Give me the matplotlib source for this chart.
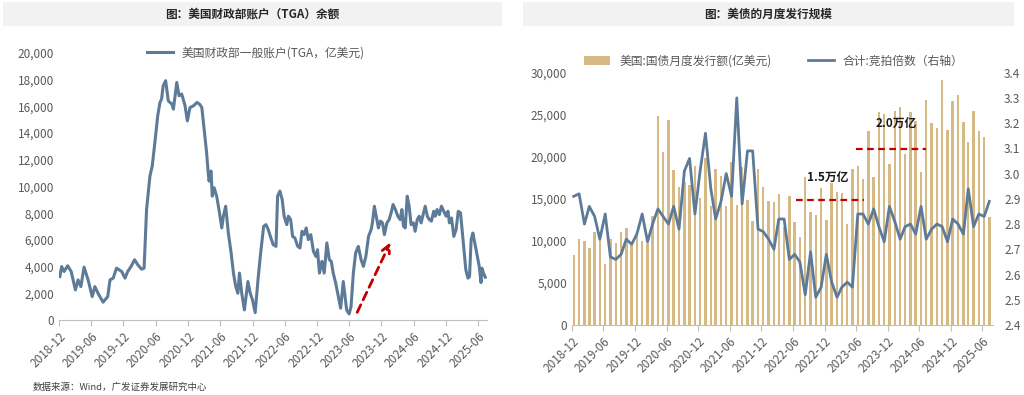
"""
Two panels: US Treasury General Account balance and monthly Treasury issuance
with the auction bid-to-cover ratio on a secondary axis.
"""
import matplotlib
matplotlib.use('Agg')
import matplotlib.pyplot as plt
import matplotlib.dates as mdates
from matplotlib.patches import Rectangle
import pandas as pd

plt.rcParams['font.family'] = ['Noto Sans CJK SC', 'DejaVu Sans']
plt.rcParams['axes.unicode_minus'] = False

# left panel: TGA balance (100m USD)
tga_dates = [
    '2018-12-06', '2018-12-16', '2018-12-30', '2019-01-19', '2019-02-08', '2019-03-04',
    '2019-03-19', '2019-04-04', '2019-04-22', '2019-05-15', '2019-06-07', '2019-06-22',
    '2019-07-10', '2019-08-08', '2019-09-03', '2019-09-16', '2019-10-04', '2019-10-23',
    '2019-11-21', '2019-12-10', '2019-12-25', '2020-01-13', '2020-02-02', '2020-02-20',
    '2020-03-13', '2020-03-27', '2020-04-10', '2020-04-29', '2020-05-12', '2020-05-27',
    '2020-06-12', '2020-06-25', '2020-07-04', '2020-07-13', '2020-07-27', '2020-08-11',
    '2020-08-31', '2020-09-09', '2020-09-28', '2020-10-11', '2020-10-26', '2020-11-14',
    '2020-11-27', '2020-12-12', '2021-01-01', '2021-01-20', '2021-02-04', '2021-02-17',
    '2021-03-02', '2021-03-16', '2021-03-25', '2021-03-30', '2021-04-10', '2021-04-17',
    '2021-04-28', '2021-05-12', '2021-05-25', '2021-06-10', '2021-06-19', '2021-07-02',
    '2021-07-17', '2021-08-02', '2021-08-15', '2021-08-28', '2021-09-09', '2021-09-18',
    '2021-10-01', '2021-10-16', '2021-11-05', '2021-11-18', '2021-12-01', '2021-12-16',
    '2022-01-01', '2022-01-14', '2022-02-02', '2022-02-15', '2022-02-28', '2022-03-15',
    '2022-03-28', '2022-04-13', '2022-04-22', '2022-05-05', '2022-05-18', '2022-05-29',
    '2022-06-13', '2022-06-22', '2022-07-05', '2022-07-16', '2022-07-29', '2022-08-14',
    '2022-08-27', '2022-09-07', '2022-09-19', '2022-10-01', '2022-10-13', '2022-10-27',
    '2022-11-11', '2022-11-25', '2022-12-04', '2022-12-15', '2022-12-29', '2023-01-11',
    '2023-01-26', '2023-02-09', '2023-02-20', '2023-03-03', '2023-03-17', '2023-04-01',
    '2023-04-14', '2023-04-29', '2023-05-18', '2023-06-01', '2023-06-12', '2023-06-25',
    '2023-07-08', '2023-07-23', '2023-08-08', '2023-08-21', '2023-09-04', '2023-09-19',
    '2023-10-04', '2023-10-11', '2023-10-22', '2023-11-05', '2023-11-14', '2023-11-25',
    '2023-12-07', '2023-12-18', '2024-01-01', '2024-01-14', '2024-01-25', '2024-02-05',
    '2024-02-18', '2024-03-03', '2024-03-16', '2024-03-26', '2024-04-04', '2024-04-14',
    '2024-04-25', '2024-05-06', '2024-05-17', '2024-05-30', '2024-06-09', '2024-06-21',
    '2024-07-02', '2024-07-13', '2024-07-24', '2024-08-05', '2024-08-17', '2024-08-28',
    '2024-09-09', '2024-09-22', '2024-10-01', '2024-10-11', '2024-10-24', '2024-11-05',
    '2024-11-18', '2024-12-01', '2024-12-12', '2024-12-20', '2025-01-01', '2025-01-14',
    '2025-01-27', '2025-02-08', '2025-02-21', '2025-02-28', '2025-03-12', '2025-03-23',
    '2025-04-04', '2025-04-13', '2025-04-22', '2025-05-02', '2025-05-11', '2025-05-24',
    '2025-06-07', '2025-06-17', '2025-06-22', '2025-07-01', '2025-07-11',
]
tga_values = [
    3250, 4000, 3630, 4060, 3630, 2250,
    3000, 2500, 3960, 3000, 1750, 2500,
    2000, 1330, 1750, 3000, 3130, 3880,
    3630, 3130, 3630, 4000, 4510, 4140,
    3800, 3880, 8270, 10770, 11530, 13280,
    15290, 16290, 16540, 17540, 17920, 16410,
    16170, 15790, 17790, 16790, 16920, 16040,
    14910, 15910, 16040, 16290, 16170, 15910,
    14290, 12530, 11030, 10400, 11150, 9270,
    9900, 9270, 8270, 6890, 7770, 8520,
    6520, 5010, 3510, 2500, 2000, 3510,
    2000, 750, 2880, 2000, 1500, 550,
    3000, 4760, 7010, 7140, 6770, 6140,
    5640, 5510, 9270, 9650, 9020, 7770,
    7140, 7770, 7520, 6260, 6140, 5510,
    5390, 6640, 6390, 6890, 6020, 6390,
    5140, 4760, 5260, 3510, 4390, 3510,
    5770, 4510, 4390, 3510, 2760, 1750,
    880, 2880, 750, 450, 1000, 3510,
    5010, 5510, 4510, 4010, 4760, 6260,
    6770, 7270, 8520, 7520, 6890, 7400,
    7270, 6390, 7270, 7520, 8020, 8650,
    8270, 7770, 7520, 8270, 7020, 6890,
    9270, 8520, 7140, 7270, 6640, 7520,
    7770, 7270, 7890, 8520, 7770, 7520,
    7400, 8140, 7770, 8270, 7890, 8520,
    8140, 7770, 8140, 7270, 7640, 6260,
    6770, 8140, 8020, 7020, 5260, 3760,
    3130, 3250, 6020, 6510, 5890, 5010,
    4010, 2800, 3880, 3510, 3200,
]

# right panel: monthly issuance (100m USD) and bid-to-cover ratio
issue_months = pd.date_range('2018-12-01', '2025-07-01', freq='MS')
issue_amount = [
    8300, 10200, 10000, 9100, 11000, 10100, 7200, 10200, 9800, 11000,
    11500, 9500, 10900, 10000, 9800, 13000, 24800, 20600, 24400, 18400,
    16400, 17000, 16600, 18900, 15100, 19800, 14100, 18500, 17700, 14100,
    19400, 14300, 18800, 14900, 12400, 18600, 16400, 14700, 14600, 15600,
    11600, 15300, 12300, 10500, 17600, 13400, 13100, 16300, 12500, 16900,
    15800, 15700, 12000, 18600, 18900, 17400, 23100, 17600, 25300, 25100,
    19200, 25500, 25900, 20300, 25300, 24300, 18200, 26800, 24000, 23400,
    29100, 23200, 26600, 27400, 24100, 21700, 25500, 23100, 22300, 12900,
]
bid_ratio = [
    2.91, 2.92, 2.80, 2.87, 2.83, 2.74, 2.84, 2.67, 2.66, 2.68,
    2.74, 2.72, 2.76, 2.84, 2.73, 2.80, 2.86, 2.83, 2.80, 2.87,
    2.78, 3.01, 3.06, 2.84, 3.01, 3.16, 2.94, 2.82, 2.89, 3.00,
    2.91, 3.30, 2.88, 3.09, 3.09, 2.78, 2.77, 2.74, 2.70, 2.82,
    2.82, 2.66, 2.68, 2.65, 2.52, 2.69, 2.51, 2.55, 2.68, 2.57,
    2.51, 2.55, 2.57, 2.55, 2.84, 2.84, 2.80, 2.86, 2.79, 2.73,
    2.87, 2.81, 2.74, 2.79, 2.80, 2.76, 2.87, 2.74, 2.78, 2.80,
    2.79, 2.73, 2.82, 2.80, 2.76, 2.94, 2.79, 2.84, 2.83, 2.89,
]

tick_dates = pd.date_range('2018-12-01', '2025-06-01', freq='6MS')

LINE_C = '#5d7b98'
BAR_C = '#d6b985'
TXT_C = '#595959'
AXIS_C = '#bfbfbf'
RED = '#c00000'


def style_date_axis(ax, xmax):
    ax.set_xlim(pd.Timestamp('2018-12-01'), pd.Timestamp(xmax))
    ax.set_xticks(tick_dates)
    ax.xaxis.set_major_formatter(mdates.DateFormatter('%Y-%m'))
    for lab in ax.get_xticklabels():
        lab.set_rotation(45)
        lab.set_ha('right')
        lab.set_rotation_mode('anchor')
    ax.tick_params(axis='x', colors=AXIS_C, labelcolor=TXT_C, labelsize=8.5,
                   length=4, direction='out', pad=3)
    for side in ['top', 'right', 'left']:
        ax.spines[side].set_visible(False)
    ax.spines['bottom'].set_color(AXIS_C)
    ax.tick_params(axis='y', length=0, labelcolor=TXT_C, labelsize=8.5)


fig = plt.figure(figsize=(10.24, 3.95), dpi=100)

# title bands
for x0, w, title in [(0.003, 0.487, '图：美国财政部账户（TGA）余额'),
                     (0.511, 0.479, '图：美债的月度发行规模')]:
    fig.patches.append(Rectangle((x0, 0.935), w, 0.06, transform=fig.transFigure,
                                 facecolor='#f2f2f2', edgecolor='none'))
    fig.text(x0 + w / 2, 0.965, title, ha='center', va='center',
             fontsize=8.4, fontweight='bold', color='#262626')

# ---- left panel
ax1 = fig.add_axes([0.0576, 0.19, 0.418, 0.676])
ax1.plot(pd.to_datetime(tga_dates), tga_values, color=LINE_C, lw=2.2,
         label='美国财政部一般账户(TGA，亿美元)')
ax1.set_ylim(0, 20000)
ax1.set_yticks(range(0, 20001, 2000))
ax1.yaxis.set_major_formatter(matplotlib.ticker.StrMethodFormatter('{x:,.0f}'))
style_date_axis(ax1, '2025-07-21')
ax1.legend(loc='center', bbox_to_anchor=(0.46, 1.0), frameon=False,
           fontsize=8.5, handlelength=2.2, labelcolor=TXT_C)
ax1.annotate('', xy=(pd.Timestamp('2024-01-28'), 6000),
             xytext=(pd.Timestamp('2023-07-10'), 380),
             arrowprops=dict(arrowstyle='->', color=RED, lw=2,
                             linestyle=(0, (3, 2)), mutation_scale=14))

fig.text(0.032, 0.02, '数据来源：Wind，广发证券发展研究中心', fontsize=6.8,
         color='#404040', ha='left', va='center')

# ---- right panel
ax2 = fig.add_axes([0.5586, 0.1772, 0.4111, 0.6388])
bar_x = issue_months + pd.Timedelta(days=10)
bars = ax2.bar(bar_x, issue_amount, width=14, color=BAR_C,
               label='美国:国债月度发行额(亿美元)')
ax2.set_ylim(0, 30000)
ax2.set_yticks(range(0, 30001, 5000))
ax2.yaxis.set_major_formatter(matplotlib.ticker.StrMethodFormatter('{x:,.0f}'))
style_date_axis(ax2, '2025-08-01')

ax3 = ax2.twinx()
line, = ax3.plot(bar_x, bid_ratio, color=LINE_C, lw=2, label='合计:竞拍倍数（右轴）')
ax3.set_ylim(2.4, 3.4)
ax3.set_yticks([2.4 + 0.1 * k for k in range(11)])
ax3.yaxis.set_major_formatter(matplotlib.ticker.StrMethodFormatter('{x:.1f}'))
for side in ['top', 'right', 'left', 'bottom']:
    ax3.spines[side].set_visible(False)
ax3.tick_params(axis='y', length=0, labelcolor=TXT_C, labelsize=8.5, pad=8)

# issuance plateaus
ax2.plot([pd.Timestamp('2022-06-19'), pd.Timestamp('2023-07-18')], [14900, 14900],
         color=RED, lw=1.6, linestyle=(0, (3, 2)))
ax2.plot([pd.Timestamp('2023-06-01'), pd.Timestamp('2024-07-10')], [20900, 20900],
         color=RED, lw=1.6, linestyle=(0, (3, 2)))
ax2.text(pd.Timestamp('2022-12-20'), 17500, '1.5万亿', fontsize=8.5,
         fontweight='bold', style='italic', ha='center', va='center', color='#1a1a1a')
ax2.text(pd.Timestamp('2024-01-20'), 24000, '2.0万亿', fontsize=8.5,
         fontweight='bold', style='italic', ha='center', va='center', color='#1a1a1a')

ax2.legend([bars, line], [bars.get_label(), line.get_label()], loc='center',
           bbox_to_anchor=(0.48, 1.046), ncol=2, frameon=False, fontsize=8.5,
           handlelength=2.2, columnspacing=3, labelcolor=TXT_C)

plt.savefig('out.png', dpi=100)
